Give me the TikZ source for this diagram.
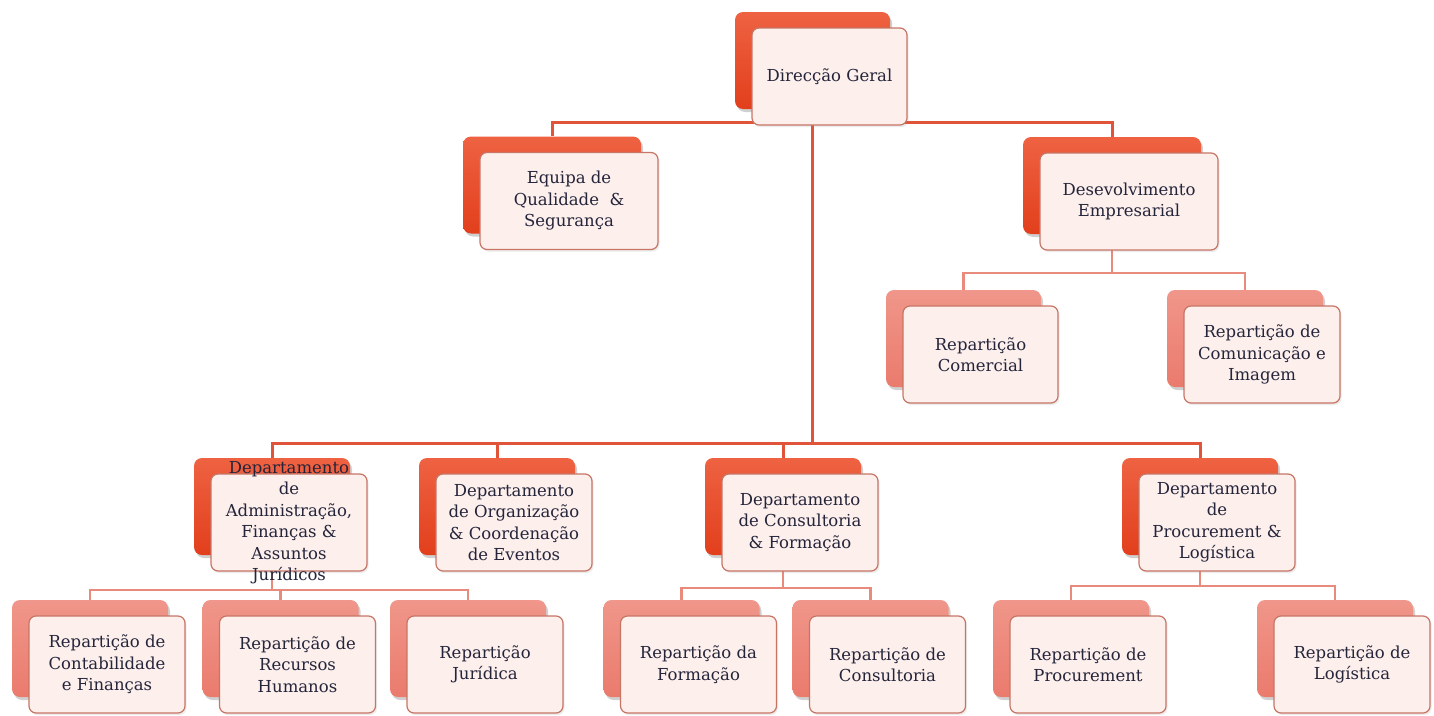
\documentclass[tikz,border=0pt]{standalone}
\usepackage{fontspec}
\setmainfont{DejaVu Serif}
\usetikzlibrary{shadows}
\definecolor{lineA}{HTML}{E0553A}
\definecolor{lineB}{HTML}{E88B7C}
\definecolor{backAtop}{HTML}{EE6242}
\definecolor{backAbot}{HTML}{E23F1C}
\definecolor{backBtop}{HTML}{F0968A}
\definecolor{backBbot}{HTML}{EA7B6D}
\definecolor{frontfill}{HTML}{FCEFEC}
\definecolor{frontdraw}{HTML}{C77565}
\definecolor{txt}{HTML}{24243A}
\pgfdeclarelayer{bgfill}
\pgfdeclarelayer{bg}
\pgfsetlayers{bgfill,bg,main}
\tikzset{
  backA/.style={rounded corners=8pt, top color=backAtop, bottom color=backAbot, draw=none,
    drop shadow={opacity=0.3, shadow xshift=2pt, shadow yshift=-3pt, fill=black!60}},
  backB/.style={rounded corners=8pt, top color=backBtop, bottom color=backBbot, draw=none,
    drop shadow={opacity=0.3, shadow xshift=2pt, shadow yshift=-3pt, fill=black!60}},
  boxtext/.style={text=txt, align=center, inner sep=0pt,
    font=\fontsize{16.5}{21.5}\selectfont},
  front/.style={boxtext, rounded corners=7pt, fill=frontfill, draw=frontdraw, line width=1.2pt,
    drop shadow={opacity=0.15, shadow xshift=1.5pt, shadow yshift=-2pt, fill=black!50}},
  connA/.style={draw=lineA, line width=3pt},
  connB/.style={draw=lineB, line width=2.6pt},
}
\newcommand\orgbox[6]{%
  \node[back#5, minimum width=#4pt, minimum height=97pt] (#1b) at (#2-17,#3-16) {};
  \node[front, minimum width=#4pt, minimum height=97pt] (#1) at (#2,#3) {#6};
}
\begin{document}
\begin{tikzpicture}[x=1pt,y=-1pt]
\begin{pgfonlayer}{bgfill}
\fill[white] (0,0) rectangle (1434,715);
\end{pgfonlayer}
\useasboundingbox (0,0) rectangle (1434,715);
\orgbox{dg}{829.5}{76.5}{155}{A}{Direcção Geral}
\orgbox{eq}{569}{201}{178}{A}{Equipa de\\Qualidade \ \&\\Segurança}
\orgbox{de}{1129}{201.5}{178}{A}{Desevolvimento\\Empresarial}
\orgbox{rc}{980.5}{354.5}{155}{B}{Repartição\\Comercial}
\orgbox{ri}{1262}{354.5}{156}{B}{Repartição de\\Comunicação e\\Imagem}
\orgbox{da}{289}{522.5}{156}{A}{}
\node[boxtext] (dat) at (da) {Departamento\\de\\Administração,\\Finanças \&\\Assuntos\\Jurídicos};
\orgbox{do}{514}{522.5}{156}{A}{Departamento\\de Organização\\\& Coordenação\\de Eventos}
\orgbox{dc}{800}{522.5}{156}{A}{Departamento\\de Consultoria\\\& Formação}
\orgbox{dp}{1217}{522.5}{156}{A}{Departamento\\de\\Procurement \&\\Logística}
\orgbox{r1}{107}{664.5}{156}{B}{Repartição de\\Contabilidade\\e Finanças}
\orgbox{r2}{297.5}{664.5}{156}{B}{Repartição de\\Recursos\\Humanos}
\orgbox{r3}{485}{664.5}{156}{B}{Repartição\\Jurídica}
\orgbox{r4}{698.5}{664.5}{156}{B}{Repartição da\\Formação}
\orgbox{r5}{887.5}{664.5}{156}{B}{Repartição de\\Consultoria}
\orgbox{r6}{1088}{664.5}{156}{B}{Repartição de\\Procurement}
\orgbox{r7}{1352}{664.5}{156}{B}{Repartição de\\Logística}
\coordinate (bar1) at (0,122);
\coordinate (bar2) at (0,443);
\coordinate (bar3) at (0,273);
\coordinate (bar4) at (0,590);
\coordinate (bar5) at (0,588);
\coordinate (bar6) at (0,586);
\begin{pgfonlayer}{bg}
\draw[connA] (dgb.center) -- (dgb.center |- bar1) -| (eqb.north);
\draw[connA] (dgb.center |- bar1) -| (deb.north);
\draw[connA] (dgb.center) -- (dgb.center |- bar2) -| (dab.north);
\draw[connA] (dgb.center |- bar2) -| (dob.north);
\draw[connA] (dgb.center |- bar2) -| (dcb.north);
\draw[connA] (dgb.center |- bar2) -| (dpb.north);
\draw[connB] (deb.center) -- (deb.center |- bar3) -| (rcb.north);
\draw[connB] (deb.center |- bar3) -| (rib.north);
\draw[connB] (dab.center) -- (dab.center |- bar4) -| (r1b.north);
\draw[connB] (dab.center |- bar4) -| (r2b.north);
\draw[connB] (dab.center |- bar4) -| (r3b.north);
\draw[connB] (dcb.center) -- (dcb.center |- bar5) -| (r4b.north);
\draw[connB] (dcb.center |- bar5) -| (r5b.north);
\draw[connB] (dpb.center) -- (dpb.center |- bar6) -| (r6b.north);
\draw[connB] (dpb.center |- bar6) -| (r7b.north);
\end{pgfonlayer}
\end{tikzpicture}
\end{document}
